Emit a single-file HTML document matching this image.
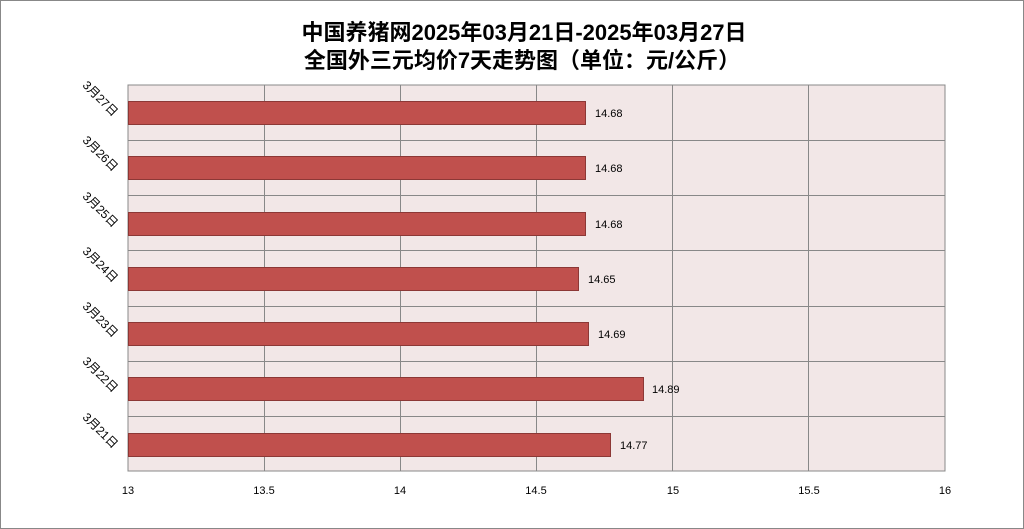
<!DOCTYPE html>
<html><head><meta charset="utf-8"><style>
html,body{margin:0;padding:0;background:#fff;}
svg{display:block;font-family:"Liberation Sans","Noto Sans CJK SC",sans-serif;}
</style></head><body>
<svg width="1024" height="529" viewBox="0 0 1024 529">
<rect x="0.5" y="0.5" width="1023" height="528" fill="#fff" stroke="#888"/>
<text x="524" y="40" text-anchor="middle" font-size="22" font-weight="bold" fill="#000">中国养猪网2025年03月21日-2025年03月27日</text>
<text x="522" y="68" text-anchor="middle" font-size="22" font-weight="bold" fill="#000">全国外三元均价7天走势图（单位：元/公斤）</text>
<rect x="128" y="85" width="817" height="386" fill="#F2E7E7" stroke="#888"/>
<g stroke="#888" stroke-width="1">
<line x1="264.5" y1="85" x2="264.5" y2="471"/>
<line x1="400.5" y1="85" x2="400.5" y2="471"/>
<line x1="536.5" y1="85" x2="536.5" y2="471"/>
<line x1="672.5" y1="85" x2="672.5" y2="471"/>
<line x1="808.5" y1="85" x2="808.5" y2="471"/>
<line x1="128" y1="140.5" x2="945" y2="140.5"/>
<line x1="128" y1="195.5" x2="945" y2="195.5"/>
<line x1="128" y1="250.5" x2="945" y2="250.5"/>
<line x1="128" y1="306.5" x2="945" y2="306.5"/>
<line x1="128" y1="361.5" x2="945" y2="361.5"/>
<line x1="128" y1="416.5" x2="945" y2="416.5"/>
</g>
<g fill="#C0504D" stroke="#8C3836" stroke-width="1">
<rect x="128.5" y="101.5" width="457" height="23"/>
<rect x="128.5" y="156.5" width="457" height="23"/>
<rect x="128.5" y="212.5" width="457" height="23"/>
<rect x="128.5" y="267.5" width="450" height="23"/>
<rect x="128.5" y="322.5" width="460" height="23"/>
<rect x="128.5" y="377.5" width="515" height="23"/>
<rect x="128.5" y="433.5" width="482" height="23"/>
</g>
<g font-size="11" fill="#000">
<text x="595" y="117">14.68</text>
<text x="595" y="172">14.68</text>
<text x="595" y="228">14.68</text>
<text x="588" y="283">14.65</text>
<text x="598" y="338">14.69</text>
<text x="652" y="393">14.89</text>
<text x="620" y="449">14.77</text>
</g>
<g font-size="11" fill="#000" text-anchor="middle">
<text x="128" y="494">13</text>
<text x="264" y="494">13.5</text>
<text x="400" y="494">14</text>
<text x="536" y="494">14.5</text>
<text x="673" y="494">15</text>
<text x="809" y="494">15.5</text>
<text x="945" y="494">16</text>
</g>
<g font-size="12" fill="#000" text-anchor="end">
<text transform="translate(113,117) rotate(45)">3月27日</text>
<text transform="translate(113,172) rotate(45)">3月26日</text>
<text transform="translate(113,228) rotate(45)">3月25日</text>
<text transform="translate(113,283) rotate(45)">3月24日</text>
<text transform="translate(113,338) rotate(45)">3月23日</text>
<text transform="translate(113,393) rotate(45)">3月22日</text>
<text transform="translate(113,449) rotate(45)">3月21日</text>
</g>
</svg>
</body></html>
